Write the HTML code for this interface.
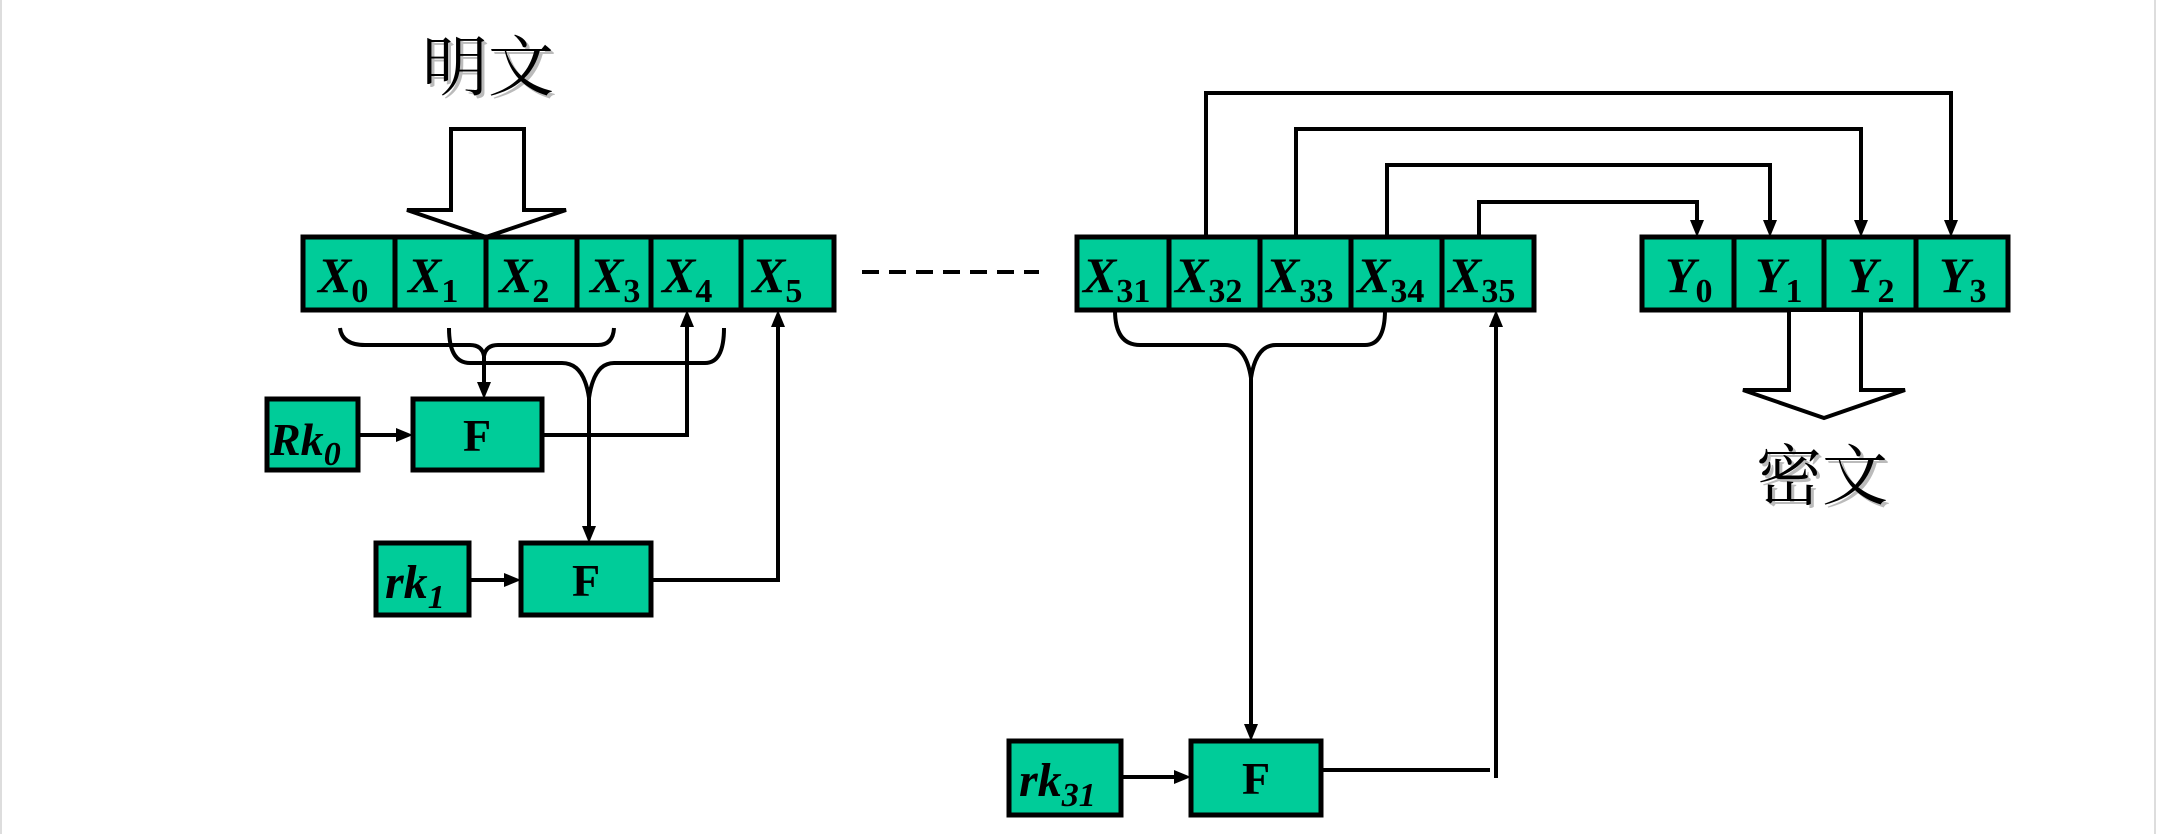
<!DOCTYPE html>
<html><head><meta charset="utf-8"><style>
html,body{margin:0;padding:0;background:#fff;}
svg{display:block;}
.t{font-family:"Liberation Serif",serif;font-weight:bold;font-style:italic;font-size:50px;}
.s{font-style:normal;font-size:34px;}
.f{font-family:"Liberation Serif",serif;font-weight:bold;font-size:46px;}
.c{font-family:"Liberation Serif","Noto Serif CJK SC",serif;font-size:66px;}
</style></head><body>
<svg width="2157" height="834" viewBox="0 0 2157 834" xmlns="http://www.w3.org/2000/svg">
<defs>
<marker id="a" markerWidth="10" markerHeight="10" refX="9" refY="5" orient="auto" markerUnits="userSpaceOnUse" viewBox="0 0 10 10">
</marker>
</defs>
<line x1="1" y1="0" x2="1" y2="834" stroke="#ddd" stroke-width="2"/>
<line x1="2155" y1="0" x2="2155" y2="834" stroke="#ddd" stroke-width="2"/>

<!-- 明文 -->
<text x="425" y="93" class="c" fill="#bbb">明文</text>
<text x="422" y="90" class="c" fill="#000">明文</text>
<!-- big input arrow -->
<polygon points="451,129 524,129 524,210 566,210 486,237 407,210 451,210" fill="#fff" stroke="#000" stroke-width="4"/>

<g fill="#00cc99" stroke="#000" stroke-width="5">
<rect x="303" y="237" width="92" height="73"/><rect x="395" y="237" width="91" height="73"/>
<rect x="486" y="237" width="91" height="73"/><rect x="577" y="237" width="74" height="73"/>
<rect x="651" y="237" width="90" height="73"/><rect x="741" y="237" width="93" height="73"/>
<rect x="1077" y="237" width="92" height="73"/><rect x="1169" y="237" width="91" height="73"/>
<rect x="1260" y="237" width="91" height="73"/><rect x="1351" y="237" width="91" height="73"/>
<rect x="1442" y="237" width="92" height="73"/>
<rect x="1642" y="237" width="92" height="73"/><rect x="1734" y="237" width="90" height="73"/>
<rect x="1824" y="237" width="92" height="73"/><rect x="1916" y="237" width="92" height="73"/>
<rect x="267" y="399" width="91" height="71"/><rect x="413" y="399" width="129" height="71"/>
<rect x="376" y="543" width="93" height="72"/><rect x="521" y="543" width="130" height="72"/>
<rect x="1009" y="741" width="112" height="74"/><rect x="1191" y="741" width="130" height="74"/>
</g>

<g class="t">
<text x="318" y="292">X<tspan class="s" dy="10">0</tspan></text>
<text x="408" y="292">X<tspan class="s" dy="10">1</tspan></text>
<text x="499" y="292">X<tspan class="s" dy="10">2</tspan></text>
<text x="590" y="292">X<tspan class="s" dy="10">3</tspan></text>
<text x="662" y="292">X<tspan class="s" dy="10">4</tspan></text>
<text x="752" y="292">X<tspan class="s" dy="10">5</tspan></text>
<text x="1083" y="292">X<tspan class="s" dy="10" textLength="34">31</tspan></text>
<text x="1175" y="292">X<tspan class="s" dy="10" textLength="34">32</tspan></text>
<text x="1266" y="292">X<tspan class="s" dy="10" textLength="34">33</tspan></text>
<text x="1357" y="292">X<tspan class="s" dy="10" textLength="34">34</tspan></text>
<text x="1448" y="292">X<tspan class="s" dy="10" textLength="34">35</tspan></text>
<text x="1665" y="292">Y<tspan class="s" dy="10">0</tspan></text>
<text x="1755" y="292">Y<tspan class="s" dy="10">1</tspan></text>
<text x="1847" y="292">Y<tspan class="s" dy="10">2</tspan></text>
<text x="1939" y="292">Y<tspan class="s" dy="10">3</tspan></text>
<text x="270" y="455" font-size="46">Rk<tspan font-size="34" dy="10">0</tspan></text>
<text x="385" y="598" font-size="48">rk<tspan font-size="34" dy="10">1</tspan></text>
<text x="1019" y="796" font-size="48">rk<tspan font-size="34" dy="10">31</tspan></text>
</g>
<g class="f" text-anchor="middle">
<text x="477" y="451">F</text><text x="586" y="596">F</text><text x="1256" y="794">F</text>
</g>

<g fill="none" stroke="#000" stroke-width="4">
<!-- brace 1 -->
<path d="M340,328 Q342,345 365,345 L470,345 Q482,345 484,356 Q486,345 498,345 L598,345 Q613,345 614,328"/>
<line x1="484" y1="352" x2="484" y2="385"/>
<!-- brace 2 -->
<path d="M449,328 Q449,363 470,363 L562,363 Q584,363 589,398 Q594,363 614,363 L705,363 Q724,363 724,328"/>
<line x1="589" y1="395" x2="589" y2="528"/>
<!-- F1 outputs -->
<line x1="358" y1="435" x2="398" y2="435"/>
<polyline points="542,435 687,435 687,325"/>
<line x1="469" y1="580" x2="506" y2="580"/>
<polyline points="651,580 778,580 778,325"/>
<!-- dashes -->
<line x1="862" y1="272" x2="1039" y2="272" stroke-dasharray="17,10"/>
<!-- brace 3 -->
<path d="M1115,310 Q1115,345 1140,345 L1225,345 Q1246,345 1251,378 Q1256,345 1276,345 L1365,345 Q1385,345 1385,310"/>
<line x1="1251" y1="375" x2="1251" y2="726"/>
<line x1="1121" y1="777" x2="1176" y2="777"/>
<line x1="1321" y1="770" x2="1490" y2="770"/>
<line x1="1496" y1="325" x2="1496" y2="778"/>
<!-- connectors to Y -->
<polyline points="1206,237 1206,93 1951,93 1951,222"/>
<polyline points="1296,237 1296,129 1861,129 1861,222"/>
<polyline points="1387,237 1387,165 1770,165 1770,222"/>
<polyline points="1479,237 1479,202 1697,202 1697,222"/>
</g>
<g fill="#000">
<polygon points="484,399 477,382 491,382"/>
<polygon points="589,543 582,526 596,526"/>
<polygon points="413,435 396,428 396,442"/>
<polygon points="521,580 504,573 504,587"/>
<polygon points="687,310 680,327 694,327"/>
<polygon points="778,310 771,327 785,327"/>
<polygon points="1251,741 1244,724 1258,724"/>
<polygon points="1191,777 1174,770 1174,784"/>
<polygon points="1496,310 1489,327 1503,327"/>
<polygon points="1951,237 1944,220 1958,220"/>
<polygon points="1861,237 1854,220 1868,220"/>
<polygon points="1770,237 1763,220 1777,220"/>
<polygon points="1697,237 1690,220 1704,220"/>
</g>
<!-- output arrow -->
<polygon points="1789,310 1789,390 1743,390 1824,418 1905,390 1861,390 1861,310" fill="#fff" stroke="#000" stroke-width="4"/>
<text x="1759" y="502" class="c" fill="#bbb">密文</text>
<text x="1756" y="499" class="c" fill="#000">密文</text>
</svg>
</body></html>
